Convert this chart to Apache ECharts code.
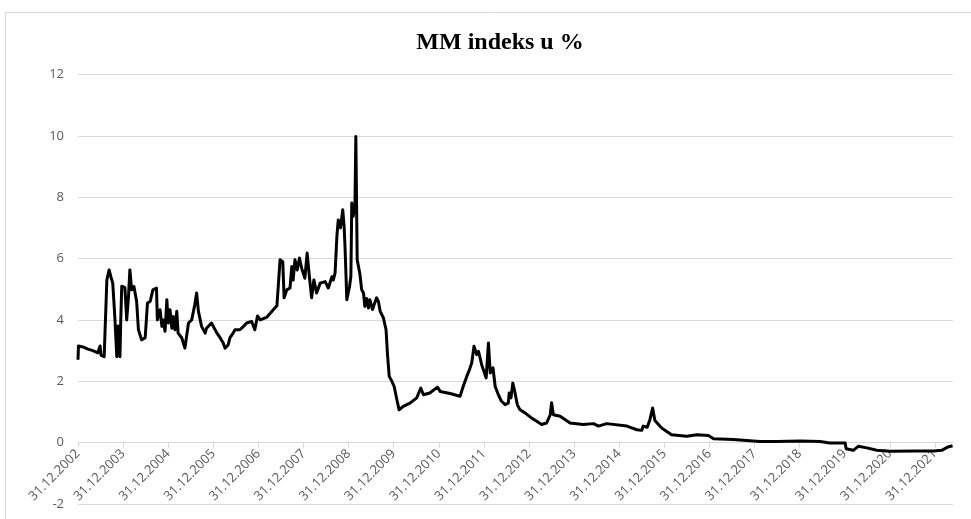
<!DOCTYPE html>
<html>
<head>
<meta charset="utf-8">
<script src="https://cdn.jsdelivr.net/npm/echarts@6/dist/echarts.min.js"></script>
<style>
  html, body { margin: 0; padding: 0; background: #fff; }
  #chart { width: 971px; height: 519px; }
</style>
</head>
<body>
<div id="chart"></div>
<script>
// decimal years (2003.00 = 31.12.2002) and MM index values in %
const years = [
  2003.00, 2003.01, 2003.11, 2003.22, 2003.33, 2003.44, 2003.49, 2003.51, 2003.58, 2003.62,
  2003.64, 2003.69, 2003.73, 2003.77, 2003.80, 2003.82, 2003.86, 2003.89, 2003.93, 2003.95,
  2003.97, 2004.04, 2004.08, 2004.12, 2004.15, 2004.19, 2004.24, 2004.30, 2004.34, 2004.41,
  2004.49, 2004.54, 2004.60, 2004.66, 2004.74, 2004.76, 2004.82, 2004.86, 2004.89, 2004.93,
  2004.97, 2005.00, 2005.04, 2005.08, 2005.11, 2005.15, 2005.19, 2005.22, 2005.30, 2005.37,
  2005.45, 2005.52, 2005.56, 2005.59, 2005.63, 2005.67, 2005.74, 2005.82, 2005.85, 2005.96,
  2006.00, 2006.08, 2006.15, 2006.22, 2006.26, 2006.33, 2006.37, 2006.44, 2006.48, 2006.59,
  2006.67, 2006.74, 2006.85, 2006.92, 2006.98, 2007.04, 2007.18, 2007.33, 2007.41, 2007.44,
  2007.48, 2007.54, 2007.57, 2007.63, 2007.70, 2007.74, 2007.77, 2007.81, 2007.86, 2007.91,
  2007.96, 2008.03, 2008.08, 2008.13, 2008.18, 2008.23, 2008.29, 2008.37, 2008.48, 2008.55,
  2008.63, 2008.66, 2008.70, 2008.74, 2008.77, 2008.82, 2008.87, 2008.90, 2008.92, 2008.96,
  2009.02, 2009.05, 2009.07, 2009.10, 2009.14, 2009.16, 2009.19, 2009.25, 2009.29, 2009.33,
  2009.36, 2009.40, 2009.44, 2009.47, 2009.53, 2009.59, 2009.62, 2009.66, 2009.70, 2009.73,
  2009.77, 2009.83, 2009.86, 2009.90, 2009.96, 2010.01, 2010.07, 2010.12, 2010.21, 2010.36,
  2010.51, 2010.60, 2010.66, 2010.80, 2010.97, 2011.03, 2011.25, 2011.47, 2011.54, 2011.62,
  2011.68, 2011.73, 2011.78, 2011.84, 2011.88, 2011.95, 2012.05, 2012.10, 2012.14, 2012.20,
  2012.25, 2012.32, 2012.39, 2012.47, 2012.54, 2012.56, 2012.60, 2012.64, 2012.69, 2012.74,
  2012.80, 2012.91, 2013.06, 2013.17, 2013.28, 2013.39, 2013.47, 2013.50, 2013.54, 2013.69,
  2013.91, 2014.20, 2014.43, 2014.54, 2014.72, 2015.17, 2015.39, 2015.50, 2015.53, 2015.62,
  2015.68, 2015.74, 2015.79, 2015.94, 2016.16, 2016.50, 2016.72, 2016.98, 2017.09, 2017.53,
  2018.12, 2018.49, 2019.01, 2019.45, 2019.67, 2020.01, 2020.03, 2020.19, 2020.30, 2020.49,
  2020.71, 2021.00, 2021.60, 2021.97, 2022.15, 2022.29, 2022.39
]
const mmIndex = [
  2.70, 3.15, 3.12, 3.05, 3.00, 2.93, 3.15, 2.85, 2.80, 2.82,
  5.30, 5.63, 5.40, 5.20, 4.50, 4.00, 2.80, 3.80, 2.80, 4.10,
  5.10, 5.05, 4.00, 4.77, 5.63, 4.98, 5.09, 4.60, 3.68, 3.35,
  3.42, 4.55, 4.60, 4.98, 5.04, 4.00, 4.33, 3.79, 4.00, 3.63,
  4.66, 3.90, 4.33, 3.73, 4.11, 3.68, 4.28, 3.57, 3.42, 3.08,
  3.90, 4.00, 4.06, 4.50, 4.88, 4.28, 3.79, 3.57, 3.73, 3.90,
  3.95, 3.57, 3.42, 3.25, 3.08, 3.19, 3.42, 3.57, 3.68, 3.68,
  3.79, 3.90, 3.95, 3.68, 4.13, 4.00, 4.08, 4.33, 4.46, 4.50,
  5.96, 5.90, 4.72, 4.98, 5.04, 5.74, 5.30, 5.96, 5.63, 6.02,
  5.68, 5.36, 6.18, 5.41, 4.72, 5.30, 4.88, 5.20, 5.25, 5.04,
  5.41, 5.30, 5.53, 6.72, 7.26, 7.00, 7.59, 7.05, 6.39, 4.66,
  5.09, 5.42, 7.81, 7.37, 7.70, 9.98, 5.96, 5.50, 4.98, 4.88,
  4.44, 4.70, 4.39, 4.66, 4.34, 4.60, 4.72, 4.60, 4.28, 4.23,
  4.07, 3.68, 2.92, 2.16, 2.00, 1.83, 1.40, 1.07, 1.18, 1.29,
  1.46, 1.78, 1.56, 1.62, 1.81, 1.67, 1.60, 1.51, 1.83, 2.16,
  2.38, 2.60, 3.14, 2.87, 2.98, 2.54, 2.11, 3.25, 2.27, 2.44,
  1.83, 1.56, 1.35, 1.24, 1.29, 1.62, 1.46, 1.94, 1.62, 1.24,
  1.07, 0.97, 0.80, 0.70, 0.59, 0.64, 0.91, 1.30, 0.91, 0.86,
  0.64, 0.59, 0.62, 0.54, 0.62, 0.54, 0.42, 0.40, 0.54, 0.50,
  0.75, 1.13, 0.72, 0.48, 0.26, 0.21, 0.26, 0.23, 0.13, 0.10,
  0.04, 0.04, 0.05, 0.04, -0.01, -0.01, -0.20, -0.25, -0.12, -0.17,
  -0.25, -0.28, -0.27, -0.27, -0.25, -0.14, -0.10
]
// x tick positions and their labels
const tickYears = [2003, 2004, 2005, 2006, 2007, 2008, 2009, 2010, 2011, 2012,
  2013, 2014, 2015, 2016, 2017, 2018, 2019, 2020, 2021, 2022]
const tickLabels = ['31.12.2002', '31.12.2003', '31.12.2004', '31.12.2005', '31.12.2006',
  '31.12.2007', '31.12.2008', '31.12.2009', '31.12.2010', '31.12.2011', '31.12.2012',
  '31.12.2013', '31.12.2014', '31.12.2015', '31.12.2016', '31.12.2017', '31.12.2018',
  '31.12.2019', '31.12.2020', '31.12.2021']

const gridTop = 74.5
const gridHeight = 429.5
const yMin = -2
const yMax = 12

const myChart = echarts.init(document.getElementById('chart'))
const option = {
  animation: false,
  title: {
    text: 'MM indeks u %',
    left: 495,
    textAlign: 'center',
    top: 26,
    textStyle: {
      fontFamily: 'Liberation Serif',
      fontWeight: 'bold',
      fontSize: 24,
      color: '#000',
    },
  },
  graphic: [
    {
      type: 'rect',
      shape: { x: 5.5, y: 12.5, width: 1000, height: 600 },
      style: { fill: 'none', stroke: '#d9d9d9', lineWidth: 1 },
      silent: true,
    },
  ],
  grid: {
    left: 78,
    right: 18,
    top: gridTop,
    height: gridHeight,
    containLabel: false,
    outerBoundsMode: 'none',
  },
  xAxis: {
    type: 'value',
    min: 2003,
    max: 2022.4,
    // lift the axis from the bottom of the grid up to the zero line
    offset: -gridHeight * (0 - yMin) / (yMax - yMin),
    axisLine: {
      onZero: false,
      lineStyle: { color: '#d9d9d9', width: 1 },
    },
    axisTick: {
      customValues: tickYears,
      length: 5,
      lineStyle: { color: '#d9d9d9' },
    },
    axisLabel: {
      customValues: tickYears,
      formatter: (v) => tickLabels[tickYears.indexOf(Math.round(v))] || '',
      rotate: 45,
      margin: 9,
      color: '#595959',
      fontFamily: 'Open Sans',
      fontSize: 13,
    },
    splitLine: { show: false },
  },
  yAxis: {
    type: 'value',
    min: yMin,
    max: yMax,
    interval: 2,
    axisLine: { show: false },
    axisTick: { show: false },
    axisLabel: {
      margin: 14,
      color: '#595959',
      fontFamily: 'Open Sans',
      fontSize: 13,
    },
    splitLine: { lineStyle: { color: '#d9d9d9', width: 1 } },
  },
  series: [
    {
      name: 'MM indeks',
      type: 'line',
      data: years.map((y, i) => [y, mmIndex[i]]),
      showSymbol: false,
      symbol: 'none',
      lineStyle: { color: '#000', width: 3, join: 'round' },
    },
  ],
}
myChart.setOption(option)
window.addEventListener('resize', () => {
  myChart.resize()
})
</script>
</body>
</html>
